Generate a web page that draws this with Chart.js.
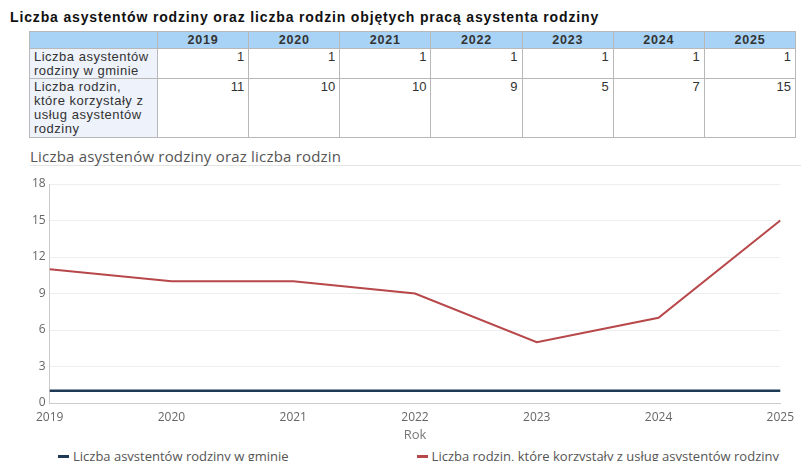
<!DOCTYPE html>
<html>
<head>
<meta charset="utf-8">
<script src="https://cdn.jsdelivr.net/npm/chart.js@4"></script>
<style>
  body { margin: 0; background: #fff; width: 801px; height: 461px; overflow: hidden; position: relative; }
  #tytul { position: absolute; left: 10px; top: 9px; font: bold 14px "Liberation Sans", Arial, sans-serif; color: #111; white-space: nowrap; letter-spacing: 0.85px; }
  table { position: absolute; left: 29px; top: 31px; width: 767px; border-collapse: collapse; font: 13px "Liberation Sans", Arial, sans-serif; color: #333; table-layout: fixed; }
  th, td { border: 1px solid #b8b8b8; padding: 1px 4px 0 4px; vertical-align: top; line-height: 14px; }
  th { background: #a9d3f6; font-weight: bold; text-align: center; height: 15px; padding: 0 4px; letter-spacing: 0.8px; font-size: 12.5px; line-height: 16px; }
  td { text-align: right; }
  td.opis { background: #eef2fa; text-align: left; letter-spacing: 0.5px; padding-right: 6px; }
  #podtytul { position: absolute; left: 30px; top: 146px; width: 771px; height: 19px; border-bottom: 1px solid #e4e4e4; font: 15px "Open Sans", sans-serif; color: #555; letter-spacing: 0.2px; }
  #wykres { position: absolute; left: 0; top: 170px; width: 801px; height: 273px; }
  #legenda { position: absolute; left: 58px; top: 447px; display: flex; gap: 128px; font: 13px "Open Sans", sans-serif; color: #555; white-space: nowrap; }
  #legenda span.znak { display: inline-block; width: 11px; height: 2.5px; vertical-align: middle; margin-right: 4px; position: relative; top: -1px; }
</style>
</head>
<body>
<div id="tytul">Liczba asystentów rodziny oraz liczba rodzin objętych pracą asystenta rodziny</div>
<table id="tabela"></table>
<div id="podtytul">Liczba asystenów rodziny oraz liczba rodzin</div>
<div id="wykres"><canvas id="grafico"></canvas></div>
<div id="legenda"></div>
<script>
const lata = ["2019", "2020", "2021", "2022", "2023", "2024", "2025"];
const asystenci = [1, 1, 1, 1, 1, 1, 1];
const rodziny = [11, 10, 10, 9, 5, 7, 15];
const etykietaAsystenci = "Liczba asystentów rodziny w gminie";
const etykietaRodziny = "Liczba rodzin, które korzystały z usług asystentów rodziny";
const opisAsystenci = "Liczba asystentów rodziny w gminie";
const opisRodziny = "Liczba rodzin, które korzystały z usług asystentów rodziny";

// tabela nad wykresem
const tabela = document.getElementById("tabela");
let html = '<colgroup><col style="width:128px">' + lata.map(() => '<col>').join('') + '</colgroup>';
html += '<tr><th></th>' + lata.map(r => '<th>' + r + '</th>').join('') + '</tr>';
html += '<tr style="height:29px"><td class="opis">' + opisAsystenci + '</td>' + asystenci.map(v => '<td>' + v + '</td>').join('') + '</tr>';
html += '<tr style="height:59px"><td class="opis">' + opisRodziny + '</td>' + rodziny.map(v => '<td>' + v + '</td>').join('') + '</tr>';
tabela.innerHTML = html;

const szary = "#666";
const font = { family: "'Open Sans', sans-serif", size: 12 };

const ctx = document.getElementById("grafico").getContext("2d");
const chart = new Chart(ctx, {
  type: "line",
  data: {
    labels: lata,
    datasets: [
      {
        label: etykietaAsystenci,
        data: asystenci,
        borderColor: "#1f3a56",
        backgroundColor: "#1f3a56",
        borderWidth: 2.5,
        pointRadius: 0,
        fill: false,
        tension: 0
      },
      {
        label: etykietaRodziny,
        data: rodziny,
        borderColor: "#b8474a",
        backgroundColor: "#b8474a",
        borderWidth: 2,
        pointRadius: 0,
        fill: false,
        tension: 0
      }
    ]
  },
  options: {
    responsive: true,
    maintainAspectRatio: false,
    animation: false,
    layout: { padding: { left: 28, right: 12, top: 14, bottom: 0 } },
    plugins: {
      legend: { display: false },
      tooltip: { enabled: false }
    },
    scales: {
      x: {
        offset: false,
        grid: { display: false, drawTicks: false },
        border: { color: "#ccc" },
        ticks: { color: szary, font: font, padding: 7, maxRotation: 0 },
        title: { display: true, text: "Rok", color: "#777", font: { family: "'Open Sans', sans-serif", size: 13 }, padding: { top: -4, bottom: 0 } }
      },
      y: {
        min: 0,
        max: 18,
        grid: { color: "#eeeeee", drawTicks: false },
        border: { color: "#ccc" },
        ticks: { stepSize: 3, color: szary, font: font, padding: 4 }
      }
    }
  }
});

// legenda z danych wykresu
document.getElementById("legenda").innerHTML = chart.data.datasets.map(ds =>
  '<span><span class="znak" style="background:' + ds.borderColor + '"></span>' + ds.label + '</span>'
).join('');
</script>
</body>
</html>
